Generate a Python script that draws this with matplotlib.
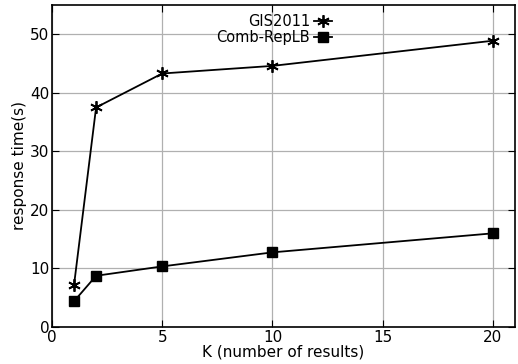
import matplotlib
matplotlib.use("Agg")
import matplotlib.pyplot as plt

# response time vs. number of requested results
K = [1, 2, 5, 10, 20]
gis2011 = [7.2, 37.5, 43.3, 44.6, 48.9]
comb_replb = [4.4, 8.75, 10.35, 12.75, 16.0]

plt.rcParams["font.family"] = ["DejaVu Sans"]
plt.rcParams["font.size"] = 11

fig = plt.figure(figsize=(5.18, 3.64), dpi=100)
ax = fig.add_axes([52 / 518, 1 - 327 / 364, (515 - 52) / 518, (327 - 5) / 364])

ax.plot(K, gis2011, "-", color="black", marker=(6, 2, 0), markersize=9,
        markeredgewidth=1.3, lw=1.3, label="GIS2011")
ax.plot(K, comb_replb, "-", color="black", marker="s", markersize=7,
        lw=1.3, label="Comb-RepLB")

ax.set_xlim(0, 21)
ax.set_ylim(0, 55)
ax.set_xticks([0, 5, 10, 15, 20])
ax.set_yticks([0, 10, 20, 30, 40, 50])
ax.grid(True, color="#b0b0b0", lw=0.9)
ax.set_axisbelow(True)
ax.tick_params(direction="in", top=True, right=True, length=5, pad=2,
               labelsize=11)
for s in ax.spines.values():
    s.set_linewidth(1.2)

ax.set_xlabel("K (number of results)", fontsize=11, labelpad=0)
ax.set_ylabel("response time(s)", fontsize=11, labelpad=2)

leg = ax.legend(loc="upper center", bbox_to_anchor=(0.48, 1.0),
                frameon=False, markerfirst=False, handlelength=1.2,
                handletextpad=0.3, labelspacing=0.1, fontsize=10.5,
                borderaxespad=0.2)

fig.savefig("out.png", dpi=100)
